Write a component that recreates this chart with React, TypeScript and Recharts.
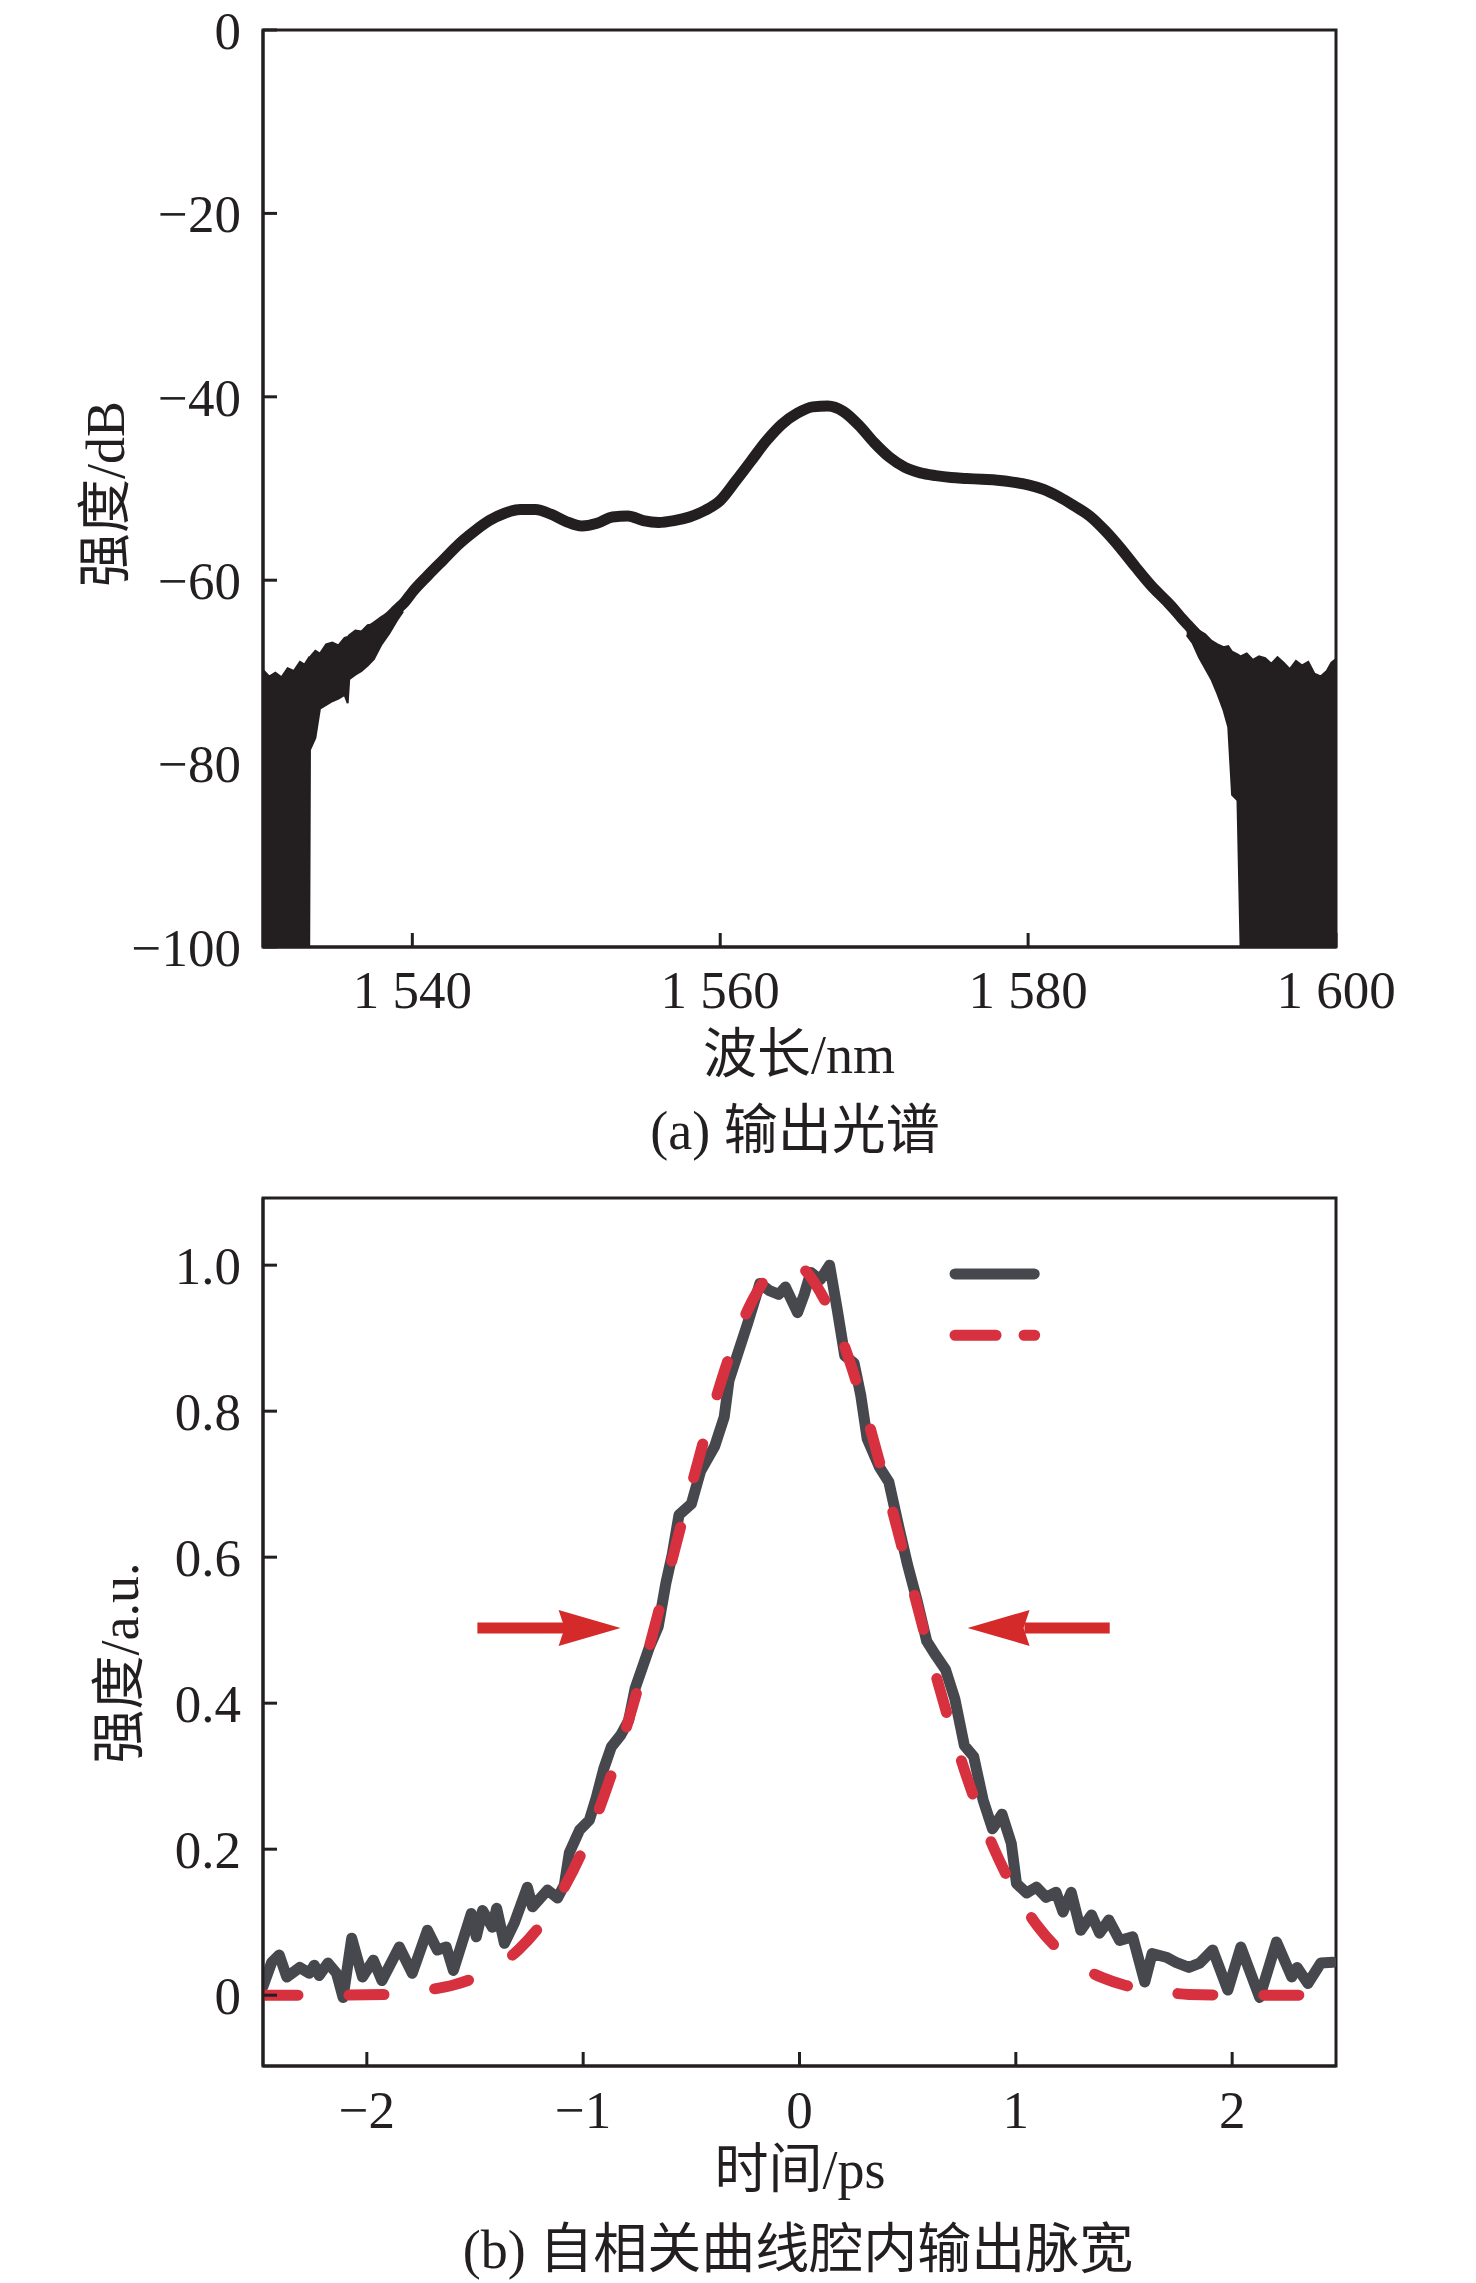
import React from 'react';
import {
  ComposedChart,
  Line,
  Area,
  XAxis,
  YAxis,
  ReferenceArea,
  ReferenceLine,
  ReferenceDot,
} from 'recharts';

const INK = '#231f20';
const TRACE = '#46484d';
const FIT_RED = '#d7313f';
const ARROW_RED = '#d42a2a';
const NUM_FONT = '"Liberation Serif", "Times New Roman", serif';
const TEXT_FONT = '"Liberation Serif", "Noto Sans CJK SC", serif';

// (a) output spectrum
const WL_TICKS = [1540, 1560, 1580, 1600];
const DB_TICKS = [-100, -80, -60, -40, -20, 0];

const SPEC_WL = [
  1537.5, 1538, 1538.5, 1539, 1539.5, 1540, 1541, 1542, 1543, 1544, 1545, 1546, 1547, 1548,
  1549, 1550, 1551, 1552, 1553, 1554, 1555, 1556, 1557, 1558, 1559, 1560, 1561, 1562, 1563,
  1564, 1565, 1566, 1567, 1568, 1569, 1570, 1571, 1572, 1573, 1574, 1575, 1576, 1577, 1578,
  1579, 1580, 1581, 1582, 1583, 1584, 1585, 1586, 1587, 1588, 1589, 1589.5, 1590, 1590.5, 1591,
];
const SPEC_DB = [
  -65.2, -64.6, -64.0, -63.2, -62.4, -61.3, -59.5, -57.8, -56.1, -54.7, -53.5, -52.7, -52.3, -52.3,
  -52.8, -53.6, -54.1, -53.8, -53.1, -53.0, -53.5, -53.7, -53.5, -53.1, -52.4, -51.3, -49.2, -47.0, -44.8,
  -43.0, -41.8, -41.1, -41.0, -41.6, -43.1, -45.0, -46.6, -47.7, -48.3, -48.6, -48.8, -48.9, -49.0, -49.1,
  -49.3, -49.6, -50.1, -50.9, -51.9, -53.0, -54.6, -56.5, -58.6, -60.6, -62.3, -63.2, -64.2, -65.1, -66.0,
];

// noise floor at the short-wavelength edge
const EDGE_L_WL = [
  1530.3, 1530.7, 1531.1, 1531.5, 1531.9, 1532.3, 1532.7, 1533.0, 1533.3, 1533.35, 1533.7, 1534.0,
  1534.4, 1534.8, 1535.2, 1535.6, 1535.8, 1535.9, 1536.3, 1536.7, 1537.1, 1537.5, 1538.0, 1538.5,
  1539.0, 1539.4,
];
const EDGE_L_TOP = [
  -69.8, -70.5, -70.1, -70.6, -69.6, -69.9, -68.9, -69.2, -68.4, -68.4, -67.7, -68.0,
  -67.0, -66.8, -67.1, -66.3, -66.2, -66.0, -65.5, -65.6, -64.9, -64.8, -64.1, -63.5,
  -62.8, -62.2,
];
const EDGE_L_BOTTOM = [
  -100, -100, -100, -100, -100, -100, -100, -100, -100, -78.5, -77.2, -74.0,
  -73.6, -73.2, -72.9, -72.5, -73.4, -70.8, -70.3, -69.9, -69.3, -68.6, -67.0, -65.8,
  -64.4, -63.4,
];

// noise floor at the long-wavelength edge
const EDGE_R_WL = [
  1590.3, 1590.7, 1591.1, 1591.5, 1591.9, 1592.3, 1592.7, 1593.0, 1593.25, 1593.6, 1593.8, 1594.2,
  1594.6, 1595.0, 1595.4, 1595.8, 1596.2, 1596.6, 1597.0, 1597.4, 1597.8, 1598.2, 1598.6, 1599.0,
  1599.4, 1599.7, 1600,
];
const EDGE_R_TOP = [
  -64.3, -64.9, -65.5, -65.9, -66.6, -67.0, -67.3, -67.2, -67.8, -68.1, -68.3, -68.0,
  -68.7, -68.3, -68.5, -69.1, -68.4, -69.0, -69.7, -68.8, -69.3, -68.9, -70.2, -70.5,
  -69.9, -69.0, -68.6,
];
const EDGE_R_BOTTOM = [
  -66.0, -66.9, -68.4, -69.6, -70.8, -72.4, -74.2, -76.0, -83.4, -84.0, -100, -100,
  -100, -100, -100, -100, -100, -100, -100, -100, -100, -100, -100, -100,
  -100, -100, -100,
];

// (b) autocorrelation trace and fit
const T_TICKS = [-2, -1, 0, 1, 2];
const AMP_TICKS = [0, 0.2, 0.4, 0.6, 0.8, 1.0];

const AC_T = [
  -2.48, -2.44, -2.405, -2.37, -2.31, -2.266, -2.243, -2.22, -2.18, -2.14, -2.11, -2.07, -2.02,
  -1.97, -1.93, -1.85, -1.79, -1.72, -1.674, -1.633, -1.6, -1.517, -1.494, -1.465, -1.42, -1.4,
  -1.364, -1.318, -1.258, -1.234, -1.165, -1.119, -1.087, -1.064, -1.017, -0.971, -0.94, -0.905,
  -0.87, -0.827, -0.79, -0.76, -0.696, -0.653, -0.618, -0.588, -0.557, -0.5, -0.457, -0.392,
  -0.348, -0.326, -0.283, -0.239, -0.183, -0.139, -0.096, -0.065, -0.009, 0.022, 0.052, 0.096,
  0.139, 0.174, 0.209, 0.252, 0.283, 0.313, 0.37, 0.413, 0.457, 0.5, 0.544, 0.588, 0.631, 0.675,
  0.718, 0.762, 0.805, 0.849, 0.892, 0.936, 0.979, 1.003, 1.05, 1.095, 1.14, 1.186, 1.218, 1.256,
  1.3, 1.35, 1.387, 1.43, 1.48, 1.54, 1.596, 1.63, 1.695, 1.74, 1.8, 1.85, 1.91, 1.98, 2.04,
  2.127, 2.205, 2.275, 2.3, 2.35, 2.41, 2.465,
];
const AC_V = [
  0.012, 0.045, 0.055, 0.025, 0.038, 0.03, 0.041, 0.027, 0.044, 0.03, -0.003, 0.078, 0.025,
  0.048, 0.02, 0.066, 0.03, 0.089, 0.062, 0.066, 0.034, 0.112, 0.08, 0.116, 0.093, 0.119,
  0.071, 0.099, 0.148, 0.121, 0.144, 0.133, 0.151, 0.195, 0.226, 0.24, 0.27, 0.31,
  0.34, 0.356, 0.376, 0.42, 0.475, 0.505, 0.564, 0.604, 0.658, 0.673, 0.718, 0.752,
  0.792, 0.842, 0.881, 0.921, 0.975, 0.965, 0.96, 0.97, 0.935, 0.96, 0.99, 0.98,
  1.0, 0.94, 0.876, 0.866, 0.822, 0.762, 0.723, 0.703, 0.644, 0.589, 0.54, 0.485, 0.465, 0.446,
  0.406, 0.342, 0.327, 0.267, 0.228, 0.248, 0.208, 0.153, 0.14, 0.148, 0.134, 0.141, 0.114, 0.141,
  0.089, 0.11, 0.085, 0.103, 0.075, 0.08, 0.018, 0.057, 0.052, 0.045, 0.038, 0.044, 0.062, 0.007, 0.066,
  -0.003, 0.073, 0.025, 0.038, 0.016, 0.044, 0.045,
];

const FIT_T = [
  -2.48, -2.2, -1.9, -1.8, -1.7, -1.6, -1.5, -1.4, -1.3, -1.2, -1.1, -1.0, -0.9, -0.8, -0.7, -0.6,
  -0.5, -0.4, -0.3, -0.2, -0.1, 0, 0.1, 0.2, 0.3, 0.4, 0.5, 0.6, 0.7, 0.8, 0.9, 1.0, 1.1, 1.2,
  1.3, 1.4, 1.5, 1.6, 1.7, 1.8, 2.1, 2.48,
];
const FIT_V = [
  0, 0, 0.001, 0.004, 0.008, 0.014, 0.024, 0.039, 0.062, 0.095, 0.141, 0.2, 0.276, 0.367, 0.471, 0.584,
  0.697, 0.804, 0.895, 0.961, 0.996, 0.996, 0.961, 0.895, 0.804, 0.697, 0.584, 0.471, 0.367, 0.276,
  0.2, 0.141, 0.095, 0.062, 0.039, 0.024, 0.014, 0.008, 0.004, 0.001, 0, 0,
];

const specRows = [
  ...SPEC_WL.map((w, i) => ({ w, db: SPEC_DB[i] })),
  ...EDGE_L_WL.map((w, i) => ({ w, left: [EDGE_L_BOTTOM[i], EDGE_L_TOP[i]] })),
  ...EDGE_R_WL.map((w, i) => ({ w, right: [EDGE_R_BOTTOM[i], EDGE_R_TOP[i]] })),
].sort((a, b) => a.w - b.w);

const pulseRows = [
  ...AC_T.map((t, i) => ({ t, ac: AC_V[i] })),
  ...FIT_T.map((t, i) => ({ t, fit: FIT_V[i] })),
].sort((a, b) => a.t - b.t);

const tickStyle = { fontSize: 53, fill: INK, fontFamily: NUM_FONT };
const axisLine = { stroke: INK, strokeWidth: 3 };
const tickLine = { stroke: INK, strokeWidth: 3 };

const minus = (v: number) => (v < 0 ? `\u2212${Math.abs(v)}` : `${v}`);
const wlLabel = (v: number) => {
  const s = String(v);
  return `${s.slice(0, 1)} ${s.slice(1)}`;
};

function Caption({ text, cx, cy, vertical = false }: { text: string; cx: number; cy: number; vertical?: boolean }) {
  return (
    <div
      style={{
        position: 'absolute',
        left: cx,
        top: cy,
        transform: `translate(-50%, -50%)${vertical ? ' rotate(-90deg)' : ''}`,
        fontSize: 54,
        fontFamily: TEXT_FONT,
        lineHeight: 1,
        whiteSpace: 'nowrap',
        color: INK,
      }}
    >
      {text}
    </div>
  );
}

const headRight = (props: any) => {
  const { cx, cy } = props;
  return (
    <polygon
      points={`${cx},${cy} ${cx - 62},${cy - 18} ${cx - 56},${cy} ${cx - 62},${cy + 18}`}
      fill={ARROW_RED}
    />
  );
};

const headLeft = (props: any) => {
  const { cx, cy } = props;
  return (
    <polygon
      points={`${cx},${cy} ${cx + 62},${cy - 18} ${cx + 56},${cy} ${cx + 62},${cy + 18}`}
      fill={ARROW_RED}
    />
  );
};

function SpectrumChart() {
  return (
    <ComposedChart
      width={1476}
      height={1050}
      data={specRows}
      margin={{ top: 30, right: 140, bottom: 0, left: 0 }}
    >
      <XAxis
        dataKey="w"
        type="number"
        domain={[1530.3, 1600]}
        ticks={WL_TICKS}
        allowDataOverflow
        height={103}
        tickSize={-14}
        tickMargin={37}
        axisLine={axisLine}
        tickLine={tickLine}
        tick={tickStyle}
        tickFormatter={wlLabel}
      />
      <YAxis
        type="number"
        domain={[-100, 0]}
        ticks={DB_TICKS}
        allowDataOverflow
        width={263}
        tickSize={-14}
        tickMargin={36}
        axisLine={axisLine}
        tickLine={tickLine}
        tick={tickStyle}
        tickFormatter={minus}
      />
      <Area
        dataKey="left"
        type="linear"
        connectNulls
        fill={INK}
        fillOpacity={1}
        stroke={INK}
        strokeWidth={2}
        isAnimationActive={false}
      />
      <Area
        dataKey="right"
        type="linear"
        connectNulls
        fill={INK}
        fillOpacity={1}
        stroke={INK}
        strokeWidth={2}
        isAnimationActive={false}
      />
      <Line
        dataKey="db"
        type="monotone"
        connectNulls
        stroke={INK}
        strokeWidth={11}
        strokeLinecap="round"
        dot={false}
        activeDot={false}
        isAnimationActive={false}
      />
      <ReferenceArea x1={1530.3} x2={1600} y1={-100} y2={0} fill="none" stroke={INK} strokeWidth={3} />
    </ComposedChart>
  );
}

function PulseChart() {
  return (
    <ComposedChart
      width={1476}
      height={1000}
      data={pulseRows}
      margin={{ top: 48, right: 140, bottom: 0, left: 0 }}
    >
      <XAxis
        dataKey="t"
        type="number"
        domain={[-2.48, 2.48]}
        ticks={T_TICKS}
        allowDataOverflow
        height={84}
        tickSize={-14}
        tickMargin={38}
        axisLine={axisLine}
        tickLine={tickLine}
        tick={tickStyle}
        tickFormatter={minus}
      />
      <YAxis
        type="number"
        domain={[-0.097, 1.092]}
        ticks={AMP_TICKS}
        allowDataOverflow
        width={263}
        tickSize={-14}
        tickMargin={36}
        axisLine={axisLine}
        tickLine={tickLine}
        tick={tickStyle}
        tickFormatter={(v: number) => (v === 0 ? '0' : v.toFixed(1))}
      />
      <Line
        dataKey="ac"
        type="linear"
        connectNulls
        stroke={TRACE}
        strokeWidth={11}
        strokeLinecap="round"
        strokeLinejoin="round"
        dot={false}
        activeDot={false}
        isAnimationActive={false}
      />
      <Line
        dataKey="fit"
        type="monotone"
        connectNulls
        stroke={FIT_RED}
        strokeWidth={11}
        strokeLinecap="round"
        strokeDasharray="35 51"
        dot={false}
        activeDot={false}
        isAnimationActive={false}
      />
      {/* FWHM arrows */}
      <ReferenceLine
        segment={[{ x: -1.489, y: 0.503 }, { x: -1.08, y: 0.503 }]}
        stroke={ARROW_RED}
        strokeWidth={11}
      />
      <ReferenceDot x={-0.827} y={0.503} shape={headRight} />
      <ReferenceLine
        segment={[{ x: 1.04, y: 0.503 }, { x: 1.434, y: 0.503 }]}
        stroke={ARROW_RED}
        strokeWidth={11}
      />
      <ReferenceDot x={0.777} y={0.503} shape={headLeft} />
      {/* legend samples, no text */}
      <ReferenceLine
        segment={[{ x: 0.719, y: 0.988 }, { x: 1.085, y: 0.988 }]}
        stroke={TRACE}
        strokeWidth={11}
        strokeLinecap="round"
      />
      <ReferenceLine
        segment={[{ x: 0.719, y: 0.904 }, { x: 1.087, y: 0.904 }]}
        stroke={FIT_RED}
        strokeWidth={11}
        strokeLinecap="round"
        strokeDasharray="41 28"
      />
      <ReferenceArea x1={-2.48} x2={2.48} y1={-0.097} y2={1.092} fill="none" stroke={INK} strokeWidth={3} />
    </ComposedChart>
  );
}

export default function App() {
  return (
    <div style={{ position: 'absolute', left: 0, top: 0, width: 1476, height: 2283, background: '#fff' }}>
      <div style={{ position: 'absolute', left: 0, top: 0 }}>
        <SpectrumChart />
      </div>
      <Caption text="强度/dB" cx={106} cy={494} vertical />
      <Caption text="波长/nm" cx={799} cy={1055} />
      <Caption text="(a) 输出光谱" cx={795} cy={1131} />

      <div style={{ position: 'absolute', left: 0, top: 1150 }}>
        <PulseChart />
      </div>
      <Caption text="强度/a.u." cx={120} cy={1663} vertical />
      <Caption text="时间/ps" cx={800} cy={2170} />
      <Caption text="(b) 自相关曲线腔内输出脉宽" cx={798} cy={2250} />
    </div>
  );
}
